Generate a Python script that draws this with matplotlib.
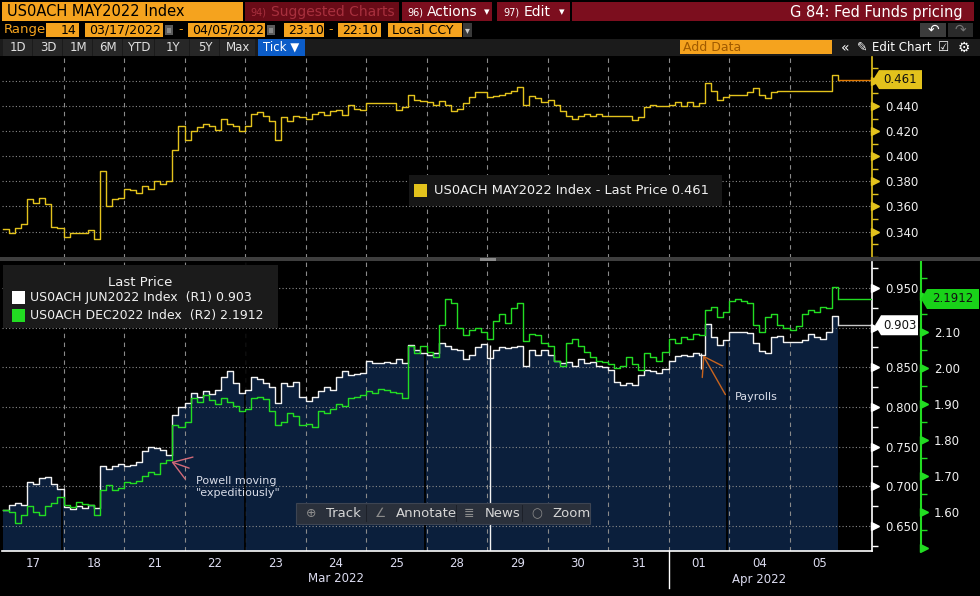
import matplotlib

matplotlib.use("Agg")
import matplotlib.pyplot as plt
import matplotlib.transforms as mtransforms
import numpy as np
from matplotlib.patches import Polygon, Rectangle
from matplotlib.ticker import FixedFormatter, FixedLocator, FuncFormatter

W, H = 980, 596
plt.rcParams["font.family"] = ["DejaVu Sans"]

# ---- data -------------------------------------------------------------
days = ["17", "18", "21", "22", "23", "24", "25", "28", "29", "30", "31", "01", "04", "05"]
months = ["Mar 2022", "Apr 2022"]
month_ndays = [11, 3]
gap_days = [0.98, 4.0, 6.98, 11.97]   # overnight gaps visible in the area fill
step = 0.1                             # one bucket = 0.1 trading day

may = [0.342, 0.339, 0.343, 0.346, 0.366, 0.363, 0.367, 0.362, 0.344, 0.343,
       0.336, 0.339, 0.339, 0.339, 0.341, 0.334, 0.388, 0.360, 0.366, 0.367,
       0.374, 0.373, 0.371, 0.376, 0.374, 0.380, 0.378, 0.380, 0.405, 0.424,
       0.413, 0.420, 0.423, 0.426, 0.424, 0.421, 0.430, 0.426, 0.424, 0.420,
       0.424, 0.434, 0.435, 0.432, 0.428, 0.413, 0.431, 0.428, 0.432, 0.431,
       0.430, 0.434, 0.435, 0.433, 0.436, 0.437, 0.433, 0.441, 0.438, 0.437,
       0.442, 0.442, 0.442, 0.442, 0.442, 0.437, 0.439, 0.449, 0.445, 0.444,
       0.443, 0.441, 0.444, 0.441, 0.436, 0.438, 0.442, 0.447, 0.451, 0.451,
       0.447, 0.448, 0.449, 0.450, 0.452, 0.455, 0.441, 0.448, 0.446, 0.443,
       0.445, 0.441, 0.436, 0.432, 0.430, 0.432, 0.434, 0.432, 0.434, 0.432,
       0.432, 0.432, 0.432, 0.432, 0.429, 0.431, 0.439, 0.441, 0.440, 0.440,
       0.441, 0.443, 0.440, 0.443, 0.440, 0.442, 0.458, 0.452, 0.445, 0.447,
       0.449, 0.449, 0.449, 0.451, 0.454, 0.449, 0.446, 0.451, 0.452, 0.452,
       0.452, 0.452, 0.452, 0.452, 0.452, 0.452, 0.452, 0.465, 0.461]

jun = [0.670, 0.676, 0.679, 0.677, 0.706, 0.703, 0.710, 0.712, 0.703, 0.697,
       0.674, 0.672, 0.675, 0.673, 0.676, 0.673, 0.725, 0.722, 0.726, 0.728,
       0.726, 0.727, 0.731, 0.745, 0.750, 0.748, 0.746, 0.740, 0.790, 0.800,
       0.805, 0.818, 0.812, 0.820, 0.816, 0.822, 0.838, 0.845, 0.830, 0.818,
       0.822, 0.838, 0.835, 0.830, 0.825, 0.805, 0.830, 0.826, 0.832, 0.812,
       0.808, 0.812, 0.820, 0.825, 0.822, 0.838, 0.845, 0.840, 0.842, 0.843,
       0.858, 0.855, 0.856, 0.857, 0.855, 0.860, 0.856, 0.878, 0.872, 0.868,
       0.866, 0.868, 0.880, 0.877, 0.873, 0.872, 0.860, 0.866, 0.875, 0.879,
       0.862, 0.872, 0.875, 0.874, 0.876, 0.877, 0.852, 0.872, 0.866, 0.872,
       0.866, 0.858, 0.855, 0.857, 0.852, 0.860, 0.855, 0.857, 0.852, 0.850,
       0.847, 0.832, 0.828, 0.830, 0.828, 0.840, 0.847, 0.845, 0.843, 0.848,
       0.858, 0.864, 0.866, 0.864, 0.868, 0.866, 0.905, 0.888, 0.878, 0.885,
       0.895, 0.895, 0.894, 0.893, 0.880, 0.870, 0.868, 0.888, 0.890, 0.882,
       0.882, 0.882, 0.885, 0.892, 0.888, 0.886, 0.895, 0.915, 0.903]

dec = [1.605, 1.600, 1.570, 1.590, 1.615, 1.600, 1.592, 1.615, 1.625, 1.640,
       1.618, 1.612, 1.628, 1.622, 1.620, 1.590, 1.660, 1.675, 1.660, 1.665,
       1.682, 1.680, 1.685, 1.700, 1.710, 1.705, 1.735, 1.745, 1.840, 1.835,
       1.850, 1.915, 1.905, 1.925, 1.910, 1.900, 1.915, 1.905, 1.895, 1.880,
       1.885, 1.915, 1.920, 1.912, 1.880, 1.840, 1.850, 1.875, 1.865, 1.840,
       1.845, 1.835, 1.880, 1.875, 1.885, 1.900, 1.895, 1.915, 1.920, 1.925,
       1.935, 1.930, 1.940, 1.938, 1.932, 1.930, 1.915, 2.060, 2.040, 2.060,
       2.045, 2.030, 2.120, 2.190, 2.180, 2.110, 2.090, 2.105, 2.110, 2.100,
       2.080, 2.130, 2.150, 2.125, 2.165, 2.180, 2.075, 2.095, 2.090, 2.070,
       2.060, 2.020, 2.005, 2.070, 2.080, 2.060, 2.045, 2.030, 2.020, 2.015,
       2.010, 2.000, 2.005, 2.030, 2.010, 1.995, 2.040, 2.030, 2.020, 2.045,
       2.080, 2.070, 2.085, 2.080, 2.095, 2.090, 2.160, 2.170, 2.140, 2.155,
       2.185, 2.190, 2.185, 2.180, 2.120, 2.100, 2.140, 2.150, 2.120, 2.110,
       2.105, 2.115, 2.150, 2.160, 2.155, 2.170, 2.165, 2.225, 2.1912]

# single-tick prints that show as thin vertical spikes
jun_spike_t = [8.05, 11.54]
jun_spike_lo = [0.600, 0.848]
jun_spike_hi = [0.878, 0.868]

notes = [("Powell moving\n\"expeditiously\"", 2.74, 1.741),
         ("Payrolls", 11.55, 0.868)]

# ---- colours ----------------------------------------------------------
YEL = "#e3c21c"
GRN = "#22dd22"
NAVY = "#0b1f3c"
ORANGE = "#f5a31e"
RED = "#7c0e1e"
GRID = "#8a8a8a"
TXT = "#f0f0f0"

t = np.arange(len(may)) * step
XMIN, XMAX = -1 / 60.5, 869 / 60.5

fig = plt.figure(figsize=(W / 100, H / 100), dpi=100, facecolor="black")


def frac_box(x0, y0, x1, y1):
    return [x0 / W, 1 - y1 / H, (x1 - x0) / W, (y1 - y0) / H]


def rect(x0, y0, x1, y1, fc, ec="none", z=3, lw=0.8):
    fig.add_artist(Rectangle((x0 / W, 1 - y1 / H), (x1 - x0) / W, (y1 - y0) / H,
                             transform=fig.transFigure, facecolor=fc,
                             edgecolor=ec, lw=lw, zorder=z))


def txt(x, y, s, size=9, color=TXT, ha="left", z=4, **kw):
    fig.text(x / W, 1 - y / H, s, fontsize=size, color=color, ha=ha,
             va="center", zorder=z, **kw)


def tag(ax, yval, x0, w, h, fc, label, tc="#111111"):
    # price flag on the axis, vertically placed through the axis' own scale
    yc = H - ax.transData.transform((0, yval))[1]
    pts = [(x0, yc), (x0 + 6, yc - h / 2), (x0 + w, yc - h / 2),
           (x0 + w, yc + h / 2), (x0 + 6, yc + h / 2)]
    fig.add_artist(Polygon([(px / W, 1 - py / H) for px, py in pts], closed=True,
                           transform=fig.transFigure, fc=fc, ec="none", zorder=6))
    txt(x0 + 3 + w / 2, yc, label, size=8.5, color=tc, ha="center", z=7)


def style_y(ax, color, majors, minors, fmt, xpos=1.0, hide=()):
    # hide = tick values whose label sits under a price flag
    ax.yaxis.tick_right()
    ax.yaxis.set_major_locator(FixedLocator(majors))
    ax.yaxis.set_minor_locator(FixedLocator(minors))
    ax.yaxis.set_major_formatter(FuncFormatter(
        lambda v, _: "" if any(abs(v - h) < 1e-6 for h in hide) else fmt % v))
    ax.tick_params(axis="y", which="major", length=0, pad=9.5, labelsize=8.5,
                   labelcolor=TXT)
    ax.tick_params(axis="y", which="minor", length=4, width=1, color=color)
    trans = mtransforms.offset_copy(ax.get_yaxis_transform(), fig=fig, x=3,
                                    units="dots")
    ax.plot([xpos] * len(majors), majors, ls="none", marker=">", ms=5.5,
            color=color, transform=trans, clip_on=False, zorder=5)


def style_x(ax, labels=True):
    ax.set_xlim(XMIN, XMAX)
    ax.xaxis.set_major_locator(FixedLocator(np.arange(1, len(days))))
    ax.xaxis.set_minor_locator(FixedLocator(np.arange(len(days)) + 0.5))
    ax.xaxis.set_major_formatter(FixedFormatter([""] * (len(days) - 1)))
    ax.xaxis.set_minor_formatter(FixedFormatter(days if labels else [""] * len(days)))
    ax.tick_params(axis="x", which="both", length=0, pad=4.5, labelsize=8.5,
                   labelcolor="#dcdcf0")
    ax.grid(True, axis="x", which="major", color=GRID, ls=(0, (4, 4)), lw=0.8)
    ax.grid(True, axis="y", which="major", color=GRID, ls=(0, (1, 2)), lw=0.8)
    ax.set_axisbelow(True)


# ---- upper panel ------------------------------------------------------
ax_top = fig.add_axes(frac_box(2, 57, 872, 258))
ax_top.set_facecolor("black")
ax_top.set_ylim(0.319, 0.479)
style_x(ax_top, labels=False)
style_y(ax_top, YEL, np.arange(0.34, 0.461, 0.02), np.arange(0.32, 0.475, 0.01),
        "%.3f", hide=(0.46,))
for s in ["left", "top", "bottom"]:
    ax_top.spines[s].set_visible(False)
ax_top.spines["right"].set_color(YEL)
ax_top.spines["right"].set_linewidth(1.2)

ax_top.plot(t, may, drawstyle="steps-post", color=YEL, lw=1.0, zorder=3)
ax_top.hlines(may[-1], t[-1], XMAX, color="#e07800", lw=1.0, zorder=3)

# ---- lower panel ------------------------------------------------------
ax_lo = fig.add_axes(frac_box(2, 262, 872, 551))
ax_lo.set_facecolor("black")
lo_min, lo_max = 0.6185, 0.9827
ax_lo.set_ylim(lo_min, lo_max)
ax_r2 = ax_lo.twinx()
ax_r2.set_ylim(1.491, 2.294)

style_x(ax_lo)
style_y(ax_lo, "white", np.arange(0.65, 0.951, 0.05), np.arange(0.625, 0.98, 0.025),
        "%.3f", hide=(0.90,))
ax_lo.yaxis.set_label_position("right")
for s in ["left", "top"]:
    ax_lo.spines[s].set_visible(False)
for s in ["right", "bottom"]:
    ax_lo.spines[s].set_color("white")
    ax_lo.spines[s].set_linewidth(1.2)

ax_lo.fill_between(t, jun, lo_min, step="post", color=NAVY, lw=0, zorder=0.2)
for g in gap_days:
    ax_lo.axvline(g, color="black", lw=1.3, zorder=0.6)
ax_lo.plot(t, jun, drawstyle="steps-post", color="#f2f2f2", lw=1.0, zorder=3)
ax_lo.vlines(jun_spike_t, jun_spike_lo, jun_spike_hi, color="#f2f2f2", lw=1.0, zorder=3)
ax_lo.hlines(jun[-1], t[-1], XMAX, color="#c8c8c8", lw=1.0, zorder=3)

r2_pos = (920.5 - 2) / 870
ax_r2.spines["right"].set_position(("axes", r2_pos))
for s in ["left", "top", "bottom"]:
    ax_r2.spines[s].set_visible(False)
ax_r2.spines["right"].set_color(GRN)
ax_r2.spines["right"].set_linewidth(1.5)
style_y(ax_r2, GRN, np.arange(1.5, 2.21, 0.1), np.arange(1.55, 2.26, 0.1),
        "%.2f", xpos=r2_pos, hide=(1.5, 2.2))
ax_r2.plot(t, dec, drawstyle="steps-post", color=GRN, lw=1.0, zorder=3)
ax_r2.hlines(dec[-1], t[-1], XMAX, color=GRN, lw=1.0, zorder=3)

# month labels under the day labels
xt = ax_lo.get_xaxis_transform()
mtrans = mtransforms.offset_copy(xt, fig=fig, y=-28, units="dots")
start = 0
for name, n in zip(months, month_ndays):
    ax_lo.text(start + n / 2, 0, name, transform=mtrans, ha="center", va="center",
               fontsize=8.5, color="#dcdcf0")
    if start > 0:
        ax_lo.plot([start, start], [0, -37 / 289], transform=xt, color="white",
                   lw=1.0, clip_on=False)
    start += n

# annotations
(p_txt, p_t, p_v), (n_txt, n_t, n_v) = notes
ax_r2.annotate("", xy=(p_t, p_v), xytext=(23, -8), textcoords="offset pixels",
               arrowprops=dict(arrowstyle="->,head_length=0.9,head_width=0.6",
                               color="#d36a78", lw=1.0, mutation_scale=14))
ax_r2.annotate(p_txt, xy=(p_t, p_v), xytext=(27, -26), textcoords="offset pixels",
               ha="left", va="center", fontsize=8, color="#d8dce8",
               linespacing=1.15)
ax_lo.annotate("", xy=(n_t, n_v), xytext=(25, -44), textcoords="offset pixels",
               arrowprops=dict(arrowstyle="->,head_length=0.9,head_width=0.6",
                               color="#c8641e", lw=1.0, mutation_scale=14))
ax_lo.annotate(n_txt, xy=(n_t, n_v), xytext=(33, -44), textcoords="offset pixels",
               ha="left", va="center", fontsize=8, color="#d8dce8")

# price flags
tag(ax_top, may[-1], 873, 49, 19, YEL, f"{may[-1]:.3f}")
tag(ax_lo, jun[-1], 875, 43, 20, "white", f"{jun[-1]:.3f}")
tag(ax_r2, dec[-1], 921, 58, 20, "#19d219", f"{dec[-1]:.4f}")

# ---- legends ----------------------------------------------------------
rect(409, 175, 722, 206, "#161616", z=5)
rect(414, 184, 427, 197, YEL, z=6)
txt(434, 190.5, f"US0ACH MAY2022 Index - Last Price {may[-1]:.3f}", size=9.4, z=6)

rect(3, 265, 278, 328, "#1b1b1b", z=5)
txt(140, 282, "Last Price", size=9.5, ha="center", z=6)
rect(12, 291, 25, 304, "white", z=6)
txt(30, 298, f"US0ACH JUN2022 Index  (R1) {jun[-1]:.3f}", size=9, z=6)
rect(12, 309, 25, 322, GRN, z=6)
txt(30, 316, f"US0ACH DEC2022 Index  (R2) {dec[-1]:.4f}", size=9, z=6)

# chart toolbar
rect(296, 503, 590, 524, "#2a303b", ec="#3d4452", z=5)
for xs in [366, 456, 522]:
    rect(xs, 505, xs + 1, 522, "#1c2029", z=6)
for ix, icon, tx, label in [(311, "⊕", 326, "Track"), (381, "∠", 396, "Annotate"),
                            (469, "≣", 485, "News"), (537, "○", 552, "Zoom")]:
    txt(ix, 513.5, icon, size=9, color="#8c8c8c", ha="center", z=6)
    txt(tx, 513.5, label, size=9.5, color="#d6d6d6", z=6)

# panel separator
rect(0, 257.5, 980, 261, "#3e3e3e", z=5)
rect(480, 258, 496, 260.5, "#8a8a8a", z=6)

# ---- terminal header --------------------------------------------------
rect(2, 2, 243, 21, ORANGE)
txt(7, 12, "US0ACH MAY2022 Index", size=10.5, color="black")
rect(245, 2, 399, 21, "#6a0b17")
txt(250, 12.5, "94)", size=7, color="#a8303e")
txt(271, 12, "Suggested Charts", size=10, color="#a8303e")
rect(402, 2, 492, 21, RED)
txt(407, 12.5, "96)", size=7, color="white")
txt(427, 12, "Actions", size=10, color="white")
txt(484, 12, "▾", size=8, color="white")
rect(497, 2, 570, 21, RED)
txt(503, 12.5, "97)", size=7, color="white")
txt(524, 12, "Edit", size=10, color="white")
txt(559, 12, "▾", size=8, color="white")
rect(572, 2, 974, 21, RED)
txt(963, 12, "G 84: Fed Funds pricing", size=10.5, color="white", ha="right")

txt(4, 30, "Range", size=9.5, color=ORANGE)
for x0, x1, s in [(46, 79, "14"), (85, 163, "03/17/2022"), (188, 265, "04/05/2022"),
                  (284, 324, "23:10"), (338, 381, "22:10"), (388, 462, "Local CCY")]:
    rect(x0, 23, x1, 37, ORANGE)
    if s == "14":
        txt(x1 - 3, 30, s, size=9, color="black", ha="right")
    else:
        txt(x0 + 4, 30, s, size=9, color="black")
for x0 in [165, 267]:
    rect(x0, 25, x0 + 8, 35, "#5c5c5c")
    rect(x0 + 2, 28, x0 + 6, 33, "#8a8a8a", z=4)
txt(181, 30, "-", size=9, color=ORANGE, ha="center")
txt(331, 30, "-", size=9, color=ORANGE, ha="center")
rect(463, 23, 472, 37, "#3a3a3a")
txt(467.5, 30, "▾", size=7, color="#cccccc", ha="center")
rect(920, 23, 946, 37, "#3c3c3c")
txt(933, 30, "↶", size=10, color="white", ha="center")
rect(948, 23, 973, 37, "#2a2a2a")
txt(960.5, 30, "↷", size=10, color="#777777", ha="center")

rect(0, 39, 980, 56, "#1b1b1b")
edges = [3, 33, 63, 93, 123, 155, 190, 220, 256]
for lab, a, b in zip(["1D", "3D", "1M", "6M", "YTD", "1Y", "5Y", "Max"], edges[:-1], edges[1:]):
    rect(a, 39, b - 1, 56, "#272727")
    txt((a + b) / 2, 47.5, lab, size=8.5, color="#e0e0e0", ha="center", z=5)
rect(258, 39, 305, 56, "#0b5cc8")
txt(281.5, 47.5, "Tick ▼", size=8.5, color="white", ha="center", z=5)
rect(680, 40, 832, 54, ORANGE)
txt(683, 47.5, "Add Data", size=9, color="#a05a00", z=5)
txt(845, 47.5, "«", size=10, color="white", ha="center", z=5)
txt(862, 47.5, "✎", size=9, color="white", ha="center", z=5)
txt(872, 47.5, "Edit Chart", size=8.5, color="white", z=5)
txt(944, 47.5, "☑", size=9, color="white", ha="center", z=5)
txt(964, 47.5, "⚙", size=10, color="white", ha="center", z=5)

fig.savefig("out.png", dpi=100, facecolor="black")
